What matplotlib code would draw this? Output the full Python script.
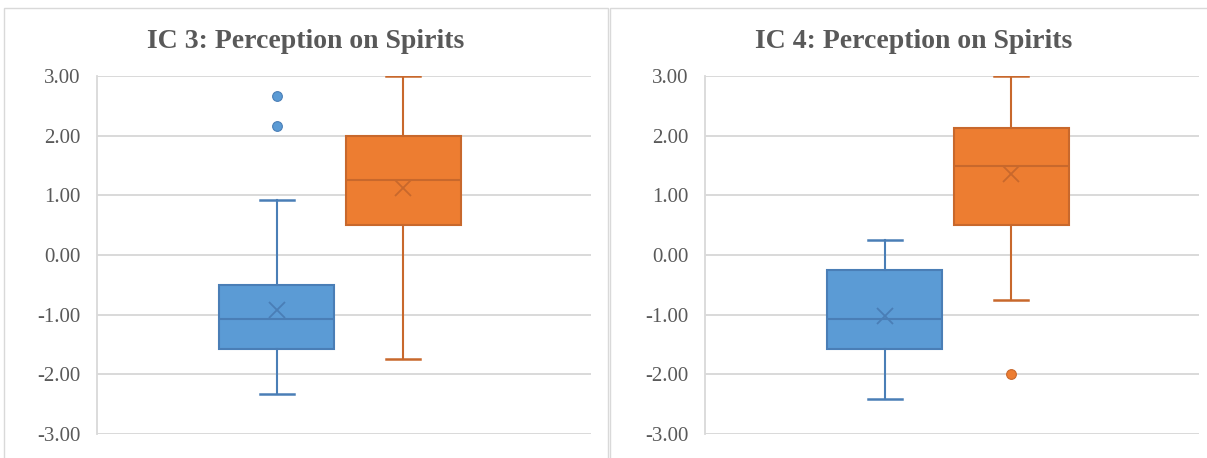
import matplotlib
matplotlib.use("Agg")
import matplotlib.pyplot as plt
from matplotlib.patches import Rectangle

# ---- data ----
titles = ["IC 3: Perception on Spirits", "IC 4: Perception on Spirits"]
series_names = ["Group A", "Group B"]
# per panel: [blue, orange]
q1 = [[-1.58, 0.50], [-1.58, 0.50]]
median = [[-1.08, 1.25], [-1.08, 1.50]]
q3 = [[-0.50, 2.00], [-0.25, 2.13]]
whisk_lo = [[-2.33, -1.75], [-2.42, -0.75]]
whisk_hi = [[0.92, 3.00], [0.25, 3.00]]
mean = [[-0.92, 1.13], [-1.02, 1.35]]
outliers = [[[2.67, 2.17], []], [[], [-2.00]]]
y_ticks = [-3, -2, -1, 0, 1, 2, 3]

fills = ["#5B9BD5", "#ED7D31"]
edges = ["#4A7EB6", "#C8682C"]
text_col = "#595959"
grid_col = "#D9D9D9"

W, H = 1207, 458
fig = plt.figure(figsize=(W / 100, H / 100), dpi=100)
plt.rcParams["font.family"] = ["Liberation Serif", "DejaVu Serif"]

# panel borders
for (x0, x1) in [(4, 608), (610, 1230)]:
    fig.patches.append(Rectangle((x0 / W, -0.1), (x1 - x0) / W, (H - 8) / H + 0.1,
                                 transform=fig.transFigure, fill=False,
                                 edgecolor=grid_col, lw=1.0))

plot_lefts = [97, 705]
title_x = [306, 914]
positions = [0.364, 0.620]
box_w = 0.233

for p in range(2):
    ax = fig.add_axes([plot_lefts[p] / W, (H - 434) / H, 494 / W, 358 / H])
    ax.set_xlim(0, 1)
    ax.set_ylim(-3, 3)
    for s in ["top", "right", "bottom"]:
        ax.spines[s].set_visible(False)
    ax.spines["left"].set_color(grid_col)
    ax.spines["left"].set_linewidth(1.3)
    ax.set_yticks(y_ticks)
    ax.set_yticklabels([f"{v:.2f}" for v in y_ticks])
    ax.tick_params(axis="y", length=0, pad=12, labelsize=15, labelcolor=text_col)
    ax.set_xticks([])
    ax.yaxis.grid(True, color=grid_col, lw=1.4)
    ax.set_axisbelow(True)

    for s in range(2):
        stats = [dict(med=median[p][s], q1=q1[p][s], q3=q3[p][s],
                      whislo=whisk_lo[p][s], whishi=whisk_hi[p][s],
                      mean=mean[p][s], fliers=outliers[p][s], label=series_names[s])]
        ax.bxp(stats, positions=[positions[s]], widths=box_w, patch_artist=True,
               showmeans=True, capwidths=0.069, manage_ticks=False,
               boxprops=dict(facecolor=fills[s], edgecolor=edges[s], lw=1.5),
               medianprops=dict(color=edges[s], lw=1.5),
               whiskerprops=dict(color=edges[s], lw=1.5),
               capprops=dict(color=edges[s], lw=1.8),
               meanprops=dict(marker="x", markersize=11, markeredgecolor=edges[s],
                              markeredgewidth=1.3),
               flierprops=dict(marker="o", markersize=7, markerfacecolor=fills[s],
                               markeredgecolor=edges[s], markeredgewidth=0.8))

    fig.text(title_x[p] / W, (H - 42) / H, titles[p], ha="center", va="center",
             fontsize=20, fontweight="bold", color=text_col)

fig.savefig("out.png", dpi=100)
